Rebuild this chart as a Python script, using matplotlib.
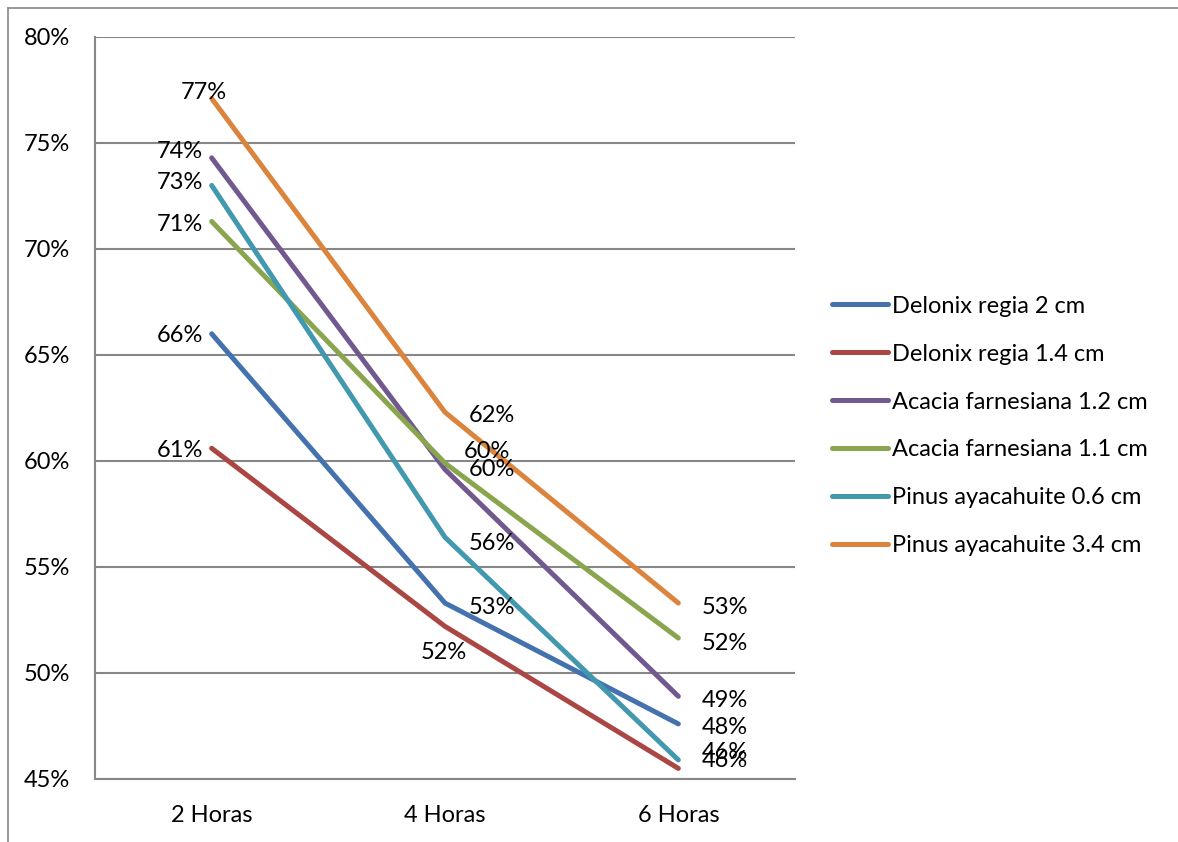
import matplotlib
matplotlib.use("Agg")
import matplotlib.pyplot as plt
from matplotlib.ticker import FuncFormatter
from matplotlib.lines import Line2D

plt.rcParams['font.family'] = ['Lato', 'DejaVu Sans']

# data (percent)
horas = ['2 Horas', '4 Horas', '6 Horas']
series_names = ['Delonix regia 2 cm', 'Delonix regia 1.4 cm',
                'Acacia farnesiana 1.2 cm', 'Acacia farnesiana 1.1 cm',
                'Pinus ayacahuite 0.6 cm', 'Pinus ayacahuite 3.4 cm']
delonix_2 = [66.0, 53.3, 47.6]
delonix_14 = [60.6, 52.2, 45.5]
acacia_12 = [74.3, 59.6, 48.9]
acacia_11 = [71.3, 59.9, 51.65]
pinus_06 = [73.0, 56.4, 45.9]
pinus_34 = [77.1, 62.3, 53.3]
all_series = [delonix_2, delonix_14, acacia_12, acacia_11, pinus_06, pinus_34]

colors = ['#4472AE', '#AA4643', '#71588F', '#89A54E', '#4198AF', '#DB843D']

# label placement per point: (dx px, dy px, ha)
label_pos = [
    [(-9, 0, 'right'), (24, -2, 'left'), (23, -2, 'left')],
    [(-9, 0, 'right'), (-1, -24, 'center'), (23, 10, 'left')],
    [(-9, 8, 'right'), (24, 2, 'left'), (23, -2, 'left')],
    [(-9, -1, 'right'), (19, 14, 'left'), (23, -3, 'left')],
    [(-9, 5, 'right'), (24, -4, 'left'), (23, 9, 'left')],
    [(-8, 8, 'center'), (24, -1, 'left'), (23, -2, 'left')],
]

FS = 17
W, H = 1178, 842
fig = plt.figure(figsize=(W / 100, H / 100), dpi=100)
ax = fig.add_axes([95 / W, 63 / H, 700 / W, 742 / H])

x = range(len(horas))
for vals, name, c, pos in zip(all_series, series_names, colors, label_pos):
    ax.plot(x, vals, color=c, lw=3.6, solid_capstyle='round',
            solid_joinstyle='round', label=name, zorder=3)
    for xi, v, (dx, dy, ha) in zip(x, vals, pos):
        ax.annotate(f"{v:.0f}%", (xi, v), xytext=(dx, dy),
                    textcoords='offset pixels', ha=ha, va='center_baseline',
                    fontsize=FS, color='black', zorder=4)

ax.set_xlim(-0.5, 2.5)
ax.set_ylim(45, 80)
ax.set_yticks(range(45, 81, 5))
ax.yaxis.set_major_formatter(FuncFormatter(lambda v, p: f"{v:.0f}%"))
ax.set_xticks(list(x))
ax.set_xticklabels(horas)
ax.tick_params(axis='both', length=0, labelsize=FS)
ax.tick_params(axis='y', pad=18)
ax.tick_params(axis='x', pad=19)
ax.grid(axis='y', color='#878787', lw=1.5)
ax.set_axisbelow(True)
for s in ['top', 'right']:
    ax.spines[s].set_visible(False)
for s in ['left', 'bottom']:
    ax.spines[s].set_color('#878787')
    ax.spines[s].set_linewidth(1.5)

leg = ax.legend(loc='center left', bbox_to_anchor=(832 / W, 1 - 426 / H),
                bbox_transform=fig.transFigure, frameon=False, fontsize=FS,
                handlelength=2.37, handletextpad=0.17, labelspacing=1.14,
                borderpad=0, borderaxespad=0)

# outer chart border (extends past the image)
fig.add_artist(Line2D([7.5 / W, 7.5 / W], [0, 1 - 8 / H], color='#888888',
                      lw=1.2, transform=fig.transFigure))
fig.add_artist(Line2D([7.5 / W, 1], [1 - 8 / H, 1 - 8 / H], color='#888888',
                      lw=1.2, transform=fig.transFigure))

fig.savefig('out.png', dpi=100)
